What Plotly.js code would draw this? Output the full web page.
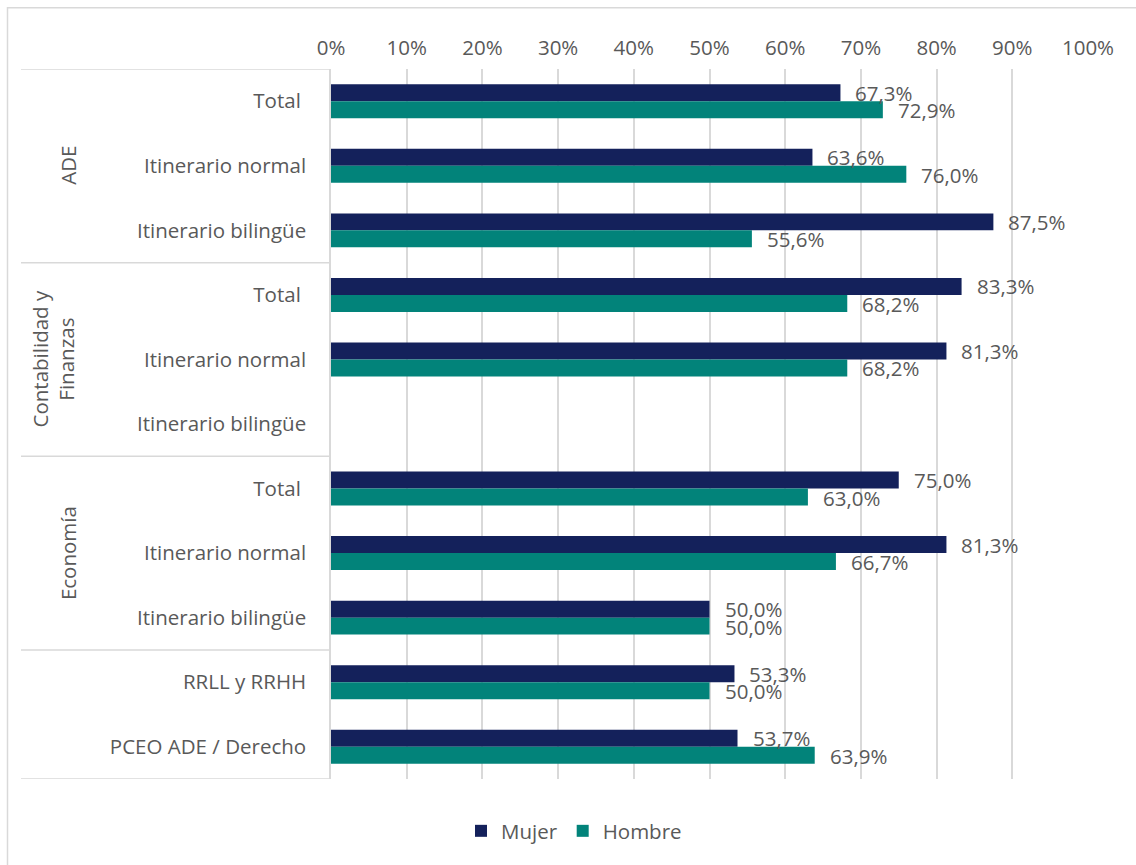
<!DOCTYPE html>
<html>
<head>
<meta charset="utf-8">
<script src="https://cdn.plot.ly/plotly-3.0.1.min.js"></script>
<style>
html,body{margin:0;padding:0;background:#fff;}
#chart{width:1136px;height:865px;}
</style>
</head>
<body>
<div id="chart"></div>
<script>
// ---- Data ----
var categories = ["Total\u00a0", "Itinerario normal", "Itinerario bilingüe",
                  "Total\u00a0", "Itinerario normal", "Itinerario bilingüe",
                  "Total\u00a0", "Itinerario normal", "Itinerario bilingüe",
                  "RRLL y RRHH", "PCEO ADE / Derecho"];
var groups = ["ADE", "Contabilidad y<br>Finanzas", "Economía", ""];
var groupSizes = [3, 3, 3, 2];
var mujer  = [67.3, 63.6, 87.5, 83.3, 81.3, null, 75.0, 81.3, 50.0, 53.3, 53.7];
var hombre = [72.9, 76.0, 55.6, 68.2, 68.2, null, 63.0, 66.7, 50.0, 50.0, 63.9];
var xTicks = [0, 10, 20, 30, 40, 50, 60, 70, 80, 90, 100];

var idx = categories.map(function (_, i) { return i; });
var fmt = function (v) { return v.toFixed(1).replace('.', ',') + '%'; };

var fontFam = "'Open Sans', 'Noto Sans', sans-serif";
var fs = 20.5;
var txtColor = "#595959";
var gridColor = "#d9d9d9";

var traces = [
  { type: 'bar', orientation: 'h', name: 'Mujer', y: idx, x: mujer,
    marker: { color: '#14215b' }, hoverinfo: 'x' },
  { type: 'bar', orientation: 'h', name: 'Hombre', y: idx, x: hombre,
    marker: { color: '#02837a' }, hoverinfo: 'x' }
];

var annotations = [];
// data labels
[[mujer, 8.5], [hombre, -9]].forEach(function (pair) {
  var arr = pair[0], ys = pair[1];
  arr.forEach(function (v, i) {
    if (v === null) return;
    annotations.push({ x: v, y: i, xref: 'x', yref: 'y', text: fmt(v),
      showarrow: false, xanchor: 'left', yanchor: 'middle', xshift: 13, yshift: ys,
      font: { family: fontFam, size: fs, color: txtColor } });
  });
});

// group labels and separators
var shapes = [];
var start = 0;
var plotLeft = 331, plotW = 757;
var groupX = [68, 53, 68, 68];
shapes.push({ type: 'line', xref: 'paper', yref: 'y', x0: (21 - plotLeft) / plotW, x1: -0.001,
  y0: -0.5, y1: -0.5, line: { color: gridColor, width: 1.5 } });
groups.forEach(function (g, gi) {
  var end = start + groupSizes[gi];
  if (g) {
    annotations.push({ xref: 'paper', yref: 'y', x: (groupX[gi] - plotLeft) / plotW,
      y: (start + end - 1) / 2, text: g, textangle: -90, showarrow: false,
      xanchor: 'center', yanchor: 'middle',
      font: { family: fontFam, size: fs, color: txtColor } });
  }
  shapes.push({ type: 'line', xref: 'paper', yref: 'y', x0: (21 - plotLeft) / plotW, x1: -0.001,
    y0: end - 0.5, y1: end - 0.5, line: { color: gridColor, width: 1.5 } });
  start = end;
});
// outer chart border (top & left visible)
shapes.push({ type: 'rect', xref: 'paper', yref: 'paper',
  x0: (7.5 - plotLeft) / plotW, x1: 1.3, y0: -0.3, y1: (779.3 - 7.5) / 710.6,
  line: { color: gridColor, width: 1.5 }, layer: 'below' });

var layout = {
  width: 1136, height: 865,
  margin: { l: 331, r: 48, t: 68.7, b: 85.7 },
  paper_bgcolor: '#ffffff', plot_bgcolor: '#ffffff',
  font: { family: fontFam, size: fs, color: txtColor },
  barmode: 'group', bargap: 0.474, bargroupgap: 0,
  showlegend: true,
  legend: { orientation: 'h', x: 574 / 1136, xref: 'container', xanchor: 'center',
    y: 1 - 831 / 865, yref: 'container', yanchor: 'middle',
    font: { family: fontFam, size: fs, color: txtColor }, itemwidth: 30, traceorder: 'normal' },
  xaxis: { side: 'top', range: [0, 100], tickvals: xTicks, ticktext: xTicks.map(function (t) { return t + '%'; }),
    showgrid: true, gridcolor: gridColor, gridwidth: 1.5, zeroline: false, showline: false,
    ticks: '', ticklabelstandoff: 9, fixedrange: true,
    tickfont: { family: fontFam, size: fs, color: txtColor } },
  yaxis: { autorange: false, range: [10.5, -0.5], tickvals: idx, ticktext: categories,
    showgrid: false, zeroline: false, showline: true, linecolor: gridColor, linewidth: 1.5,
    ticks: '', ticklabelstandoff: 19, fixedrange: true,
    tickfont: { family: fontFam, size: fs, color: txtColor } },
  annotations: annotations,
  shapes: shapes
};

Plotly.newPlot('chart', traces, layout, { displayModeBar: false, responsive: false });
</script>
</body>
</html>
